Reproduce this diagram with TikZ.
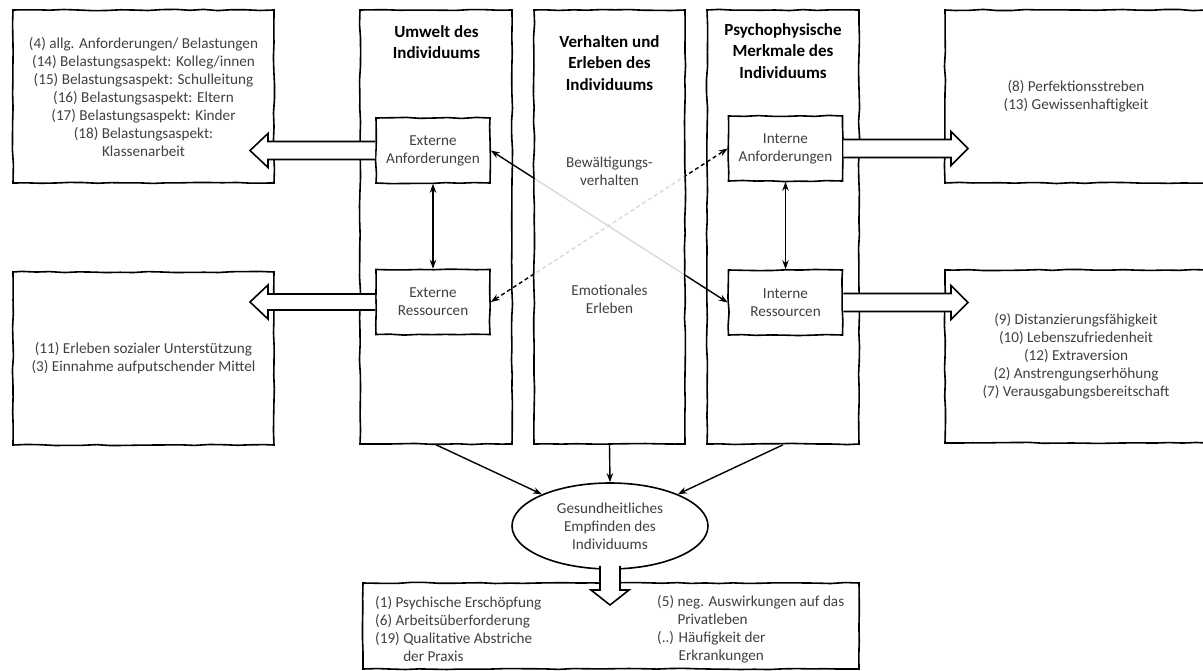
\documentclass[tikz,border=0pt]{standalone}
\usepackage{fontspec}
\setmainfont{Carlito}
\usepackage{tikz}
\usetikzlibrary{positioning,shapes.geometric,arrows.meta,calc,decorations.pathmorphing}

\definecolor{textgray}{RGB}{64,64,64}
\newcommand{\bodyfont}{\fontsize{15.2}{18}\selectfont}
\newcommand{\titlefont}{\fontsize{17}{21.5}\selectfont\bfseries}

\tikzset{
  sketch/.style={decorate,decoration={random steps,segment length=14pt,amplitude=0.6pt}},
  colbox/.style={draw,sketch,line width=1.6pt,minimum width=152pt,minimum height=434pt,inner sep=0pt},
  itembox/.style={draw,sketch,fill=white,line width=1.6pt,minimum width=114pt,minimum height=65pt,align=center,text=textgray,font=\bodyfont},
  outerbox/.style={draw,sketch,line width=1.6pt,minimum width=261pt,minimum height=173pt,align=center,text=textgray,font=\bodyfont},
  coltitle/.style={align=center,font=\titlefont,inner sep=0pt},
  graylabel/.style={align=center,font=\bodyfont,text=textgray,inner sep=0pt},
  fatarrow/.style={draw,fill=white,line width=1.6pt,line join=miter},
  dlink/.style={line width=1.4pt,{Stealth[length=9pt,width=6.5pt]}-{Stealth[length=9pt,width=6.5pt]}},
  flow/.style={line width=1.4pt,-{Stealth[length=9pt,width=6.5pt]}},
}

\begin{document}
\begin{tikzpicture}[x=1pt,y=-1pt]
\pgfmathsetseed{7}
\useasboundingbox (0,0) rectangle (1203,671);

% outer boxes
\node[outerbox] (ltop) at (143.5,96.5) {(4) allg. Anforderungen/ Belastungen\\(14) Belastungsaspekt: Kolleg/innen\\(15) Belastungsaspekt: Schulleitung\\(16) Belastungsaspekt: Eltern\\(17) Belastungsaspekt: Kinder\\(18) Belastungsaspekt:\\Klassenarbeit};
\node[outerbox] (lbot) at (143.5,358.5) {(11) Erleben sozialer Unterst\"utzung\\(3) Einnahme aufputschender Mittel};
\node[outerbox,minimum width=262pt] (rtop) at (1076,96.5) {(8) Perfektionsstreben\\(13) Gewissenhaftigkeit};
\node[outerbox,minimum width=262pt] (rbot) at (1076,356.5) {(9) Distanzierungsf\"ahigkeit\\(10) Lebenszufriedenheit\\(12) Extraversion\\(2) Anstrengungserh\"ohung\\(7) Verausgabungsbereitschaft};

% columns
\node[colbox] (col1) at (436,227) {};
\node[colbox] (col3) at (783,227) {};

% inner boxes
\node[itembox] (extA) at (433,150.5) {Externe\\Anforderungen};
\node[itembox] (extR) at (433,302) {Externe\\Ressourcen};
\node[itembox] (intA) at (785.5,148.5) {Interne\\Anforderungen};
\node[itembox] (intR) at (785.5,302.5) {Interne\\Ressourcen};

% crossing links
\draw[dlink] (extA.east) -- (intR.west);
\draw[dlink,dashed,dash pattern=on 4pt off 3pt] (extR.east) -- (intA.west);

% middle column over the links
\node[colbox,minimum width=151pt,fill=white,fill opacity=0.85,draw opacity=1] (col2) at (609.5,227) {};

% vertical links
\draw[dlink] (extA) -- (extR);
\draw[dlink] (intA) -- (intR);

% titles and labels
\node[coltitle] (t1) at (436.5,42) {Umwelt des\\Individuums};
\node[coltitle] (t2) at (609.5,63) {Verhalten und\\Erleben des\\Individuums};
\node[coltitle] (t3) at (783,51) {Psychophysische\\Merkmale des\\Individuums};
\node[graylabel] (cope) at (609.5,171) {Bew\"altigungs-\\verhalten};
\node[graylabel] (emo) at (609.5,299) {Emotionales\\Erleben};

% fat arrows
\coordinate (tipL) at (250,0);
\coordinate (tipR) at (968,0);
\draw[fatarrow] let \p1=(extA.west), \p2=(tipL) in
  (\x1,\y1+9pt) -- (\x2+18pt,\y1+9pt) -- (\x2+18pt,\y1+17pt) -- (\x2,\y1)
  -- (\x2+18pt,\y1-17pt) -- (\x2+18pt,\y1-9pt) -- (\x1,\y1-9pt);
\draw[fatarrow] let \p1=(extR.west), \p2=(tipL) in
  (\x1,\y1+8pt) -- (\x2+18pt,\y1+8pt) -- (\x2+18pt,\y1+17pt) -- (\x2,\y1)
  -- (\x2+18pt,\y1-17pt) -- (\x2+18pt,\y1-8pt) -- (\x1,\y1-8pt);
\draw[fatarrow] let \p1=(intA.east), \p2=(tipR) in
  (\x1,\y1+9pt) -- (\x2-17pt,\y1+9pt) -- (\x2-17pt,\y1+17pt) -- (\x2,\y1)
  -- (\x2-17pt,\y1-17pt) -- (\x2-17pt,\y1-9pt) -- (\x1,\y1-9pt);
\draw[fatarrow] let \p1=(intR.east), \p2=(tipR) in
  (\x1,\y1+9pt) -- (\x2-17pt,\y1+9pt) -- (\x2-17pt,\y1+17pt) -- (\x2,\y1)
  -- (\x2-17pt,\y1-17pt) -- (\x2-17pt,\y1-9pt) -- (\x1,\y1-9pt);

% health
\node[draw,ellipse,line width=1.6pt,minimum width=196pt,minimum height=86pt,align=center,text=textgray,font=\bodyfont,inner sep=0pt] (gesund) at (610,526) {Gesundheitliches\\Empfinden des\\Individuums};
\draw[flow] (col1.south) -- (gesund);
\draw[flow] (col2.south) -- (gesund.north);
\draw[flow] (col3.south) -- (gesund);

% outcomes
\node[draw,sketch,line width=1.6pt,minimum width=496pt,minimum height=86pt] (outbox) at (611,626) {};
\node[graylabel,align=left,anchor=west] (outL) at (375,629.5) {(1) Psychische Ersch\"opfung\\(6) Arbeits\"uberforderung\\(19) Qualitative Abstriche\\\phantom{(19) }der Praxis};
\node[graylabel,align=left,anchor=west] (outR) at (657,629.5) {(5) neg. Auswirkungen auf das\\\phantom{(5) }Privatleben\\(..) H\"aufigkeit der\\\phantom{(..) }Erkrankungen};
\coordinate (tipD) at (0,605);
\draw[fatarrow] let \p1=(gesund.south), \p2=(tipD) in
  (\x1-10pt,\y1+4pt) -- (\x1-10pt,\y2+15pt) -- (\x1-19pt,\y2+15pt) -- (\x1,\y2)
  -- (\x1+19pt,\y2+15pt) -- (\x1+10pt,\y2+15pt) -- (\x1+10pt,\y1+4pt);
\end{tikzpicture}
\end{document}
